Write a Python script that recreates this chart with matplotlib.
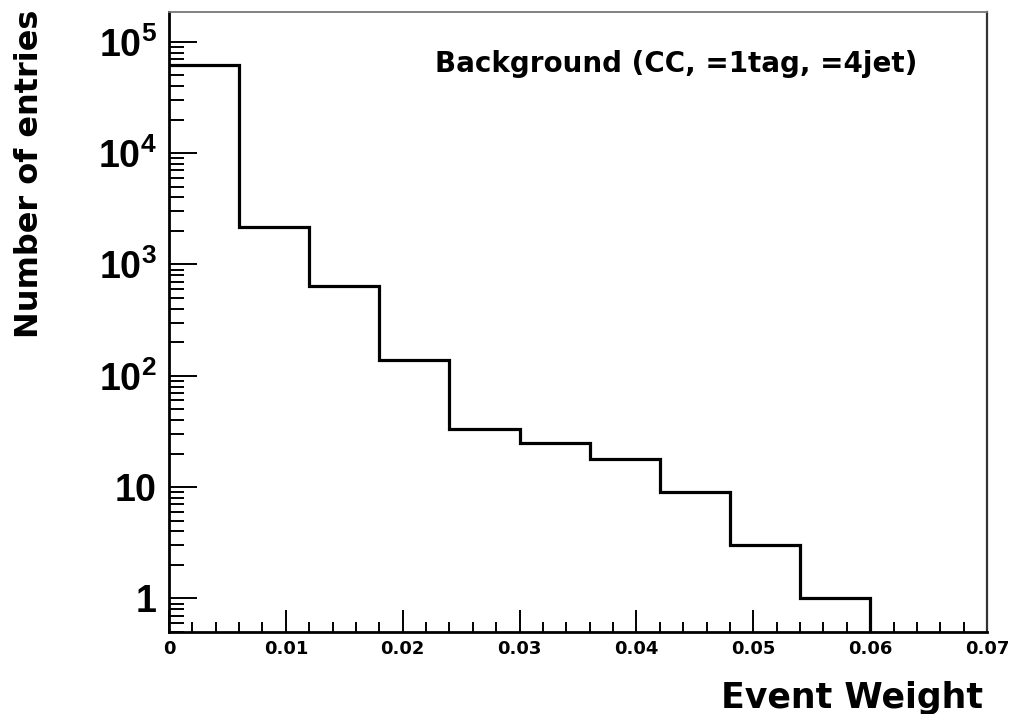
import numpy as np
import matplotlib
matplotlib.use("Agg")
import matplotlib.pyplot as plt
from matplotlib.ticker import MultipleLocator, LogLocator, NullFormatter, FuncFormatter

# ---- data ----
bin_edges = [0.0, 0.006, 0.012, 0.018, 0.024, 0.030, 0.036, 0.042, 0.048, 0.054, 0.060, 0.066, 0.072]
bin_counts = [61200, 2190, 638, 139, 33, 25, 18, 9, 3, 1, 0, 0]
x_ticks = [0.0, 0.01, 0.02, 0.03, 0.04, 0.05, 0.06, 0.07]
x_tick_labels = ["0", "0.01", "0.02", "0.03", "0.04", "0.05", "0.06", "0.07"]
title_text = "Background (CC, =1tag, =4jet)"
x_label = "Event Weight"
y_label = "Number of entries"

plt.rcParams['mathtext.fontset'] = 'custom'
plt.rcParams['mathtext.bf'] = 'Liberation Sans:weight=bold:stretch=normal'
plt.rcParams['mathtext.rm'] = 'Liberation Sans:weight=bold:stretch=normal'

fig = plt.figure(figsize=(10.11, 7.14), dpi=100)
ax = fig.add_axes([169/1011, 82/714, 818/1011, 620/714])

ax.stairs(bin_counts, bin_edges, baseline=None, color='black', linewidth=2.3)

ax.set_yscale('log', nonpositive='clip')
ax.set_xlim(0.0, 0.07)
ax.set_ylim(0.5, 1.85e5)

ax.xaxis.set_major_locator(MultipleLocator(0.01))
ax.xaxis.set_minor_locator(MultipleLocator(0.002))
ax.set_xticks(x_ticks)
ax.set_xticklabels(x_tick_labels, fontfamily='DejaVu Sans', fontweight='bold', fontsize=13)

ax.yaxis.set_major_locator(LogLocator(base=10, numticks=20))
ax.yaxis.set_minor_locator(LogLocator(base=10, subs=np.arange(2, 10), numticks=20))
ax.yaxis.set_minor_formatter(NullFormatter())

def yfmt(v, pos):
    e = int(round(np.log10(v)))
    if e == 0:
        return r'$\mathbf{1}$'
    if e == 1:
        return r'$\mathbf{10}$'
    return r'$\mathbf{10^{%d}}$' % e

ax.yaxis.set_major_formatter(FuncFormatter(yfmt))

ax.tick_params(axis='x', which='major', direction='in', length=16, width=1.4, pad=6,
               top=False, bottom=True)
ax.tick_params(axis='x', which='minor', direction='in', length=7, width=1.4, top=False)
ax.tick_params(axis='y', which='major', direction='in', length=20, width=1.4, pad=9,
               right=False, labelsize=27)
ax.tick_params(axis='y', which='minor', direction='in', length=11, width=1.4, right=False)

ax.spines['left'].set_linewidth(2.0)
ax.spines['bottom'].set_linewidth(2.0)
ax.spines['top'].set_linewidth(1.3)
ax.spines['top'].set_color('#777777')
ax.spines['right'].set_linewidth(1.6)
ax.spines['right'].set_color('#333333')

fig.text(435/1011, 1 - 72/714, title_text, ha='left', va='baseline',
         fontfamily='DejaVu Sans', fontweight='bold', fontsize=20)
fig.text(983/1011, 1 - 708/714, x_label, ha='right', va='baseline',
         fontfamily='DejaVu Sans', fontweight='bold', fontsize=25)
fig.text(30/1011, 1 - 10/714, y_label, ha='center', va='top', rotation=90,
         fontfamily='DejaVu Sans', fontweight='bold', fontsize=23)

fig.savefig('out.png', dpi=100)
